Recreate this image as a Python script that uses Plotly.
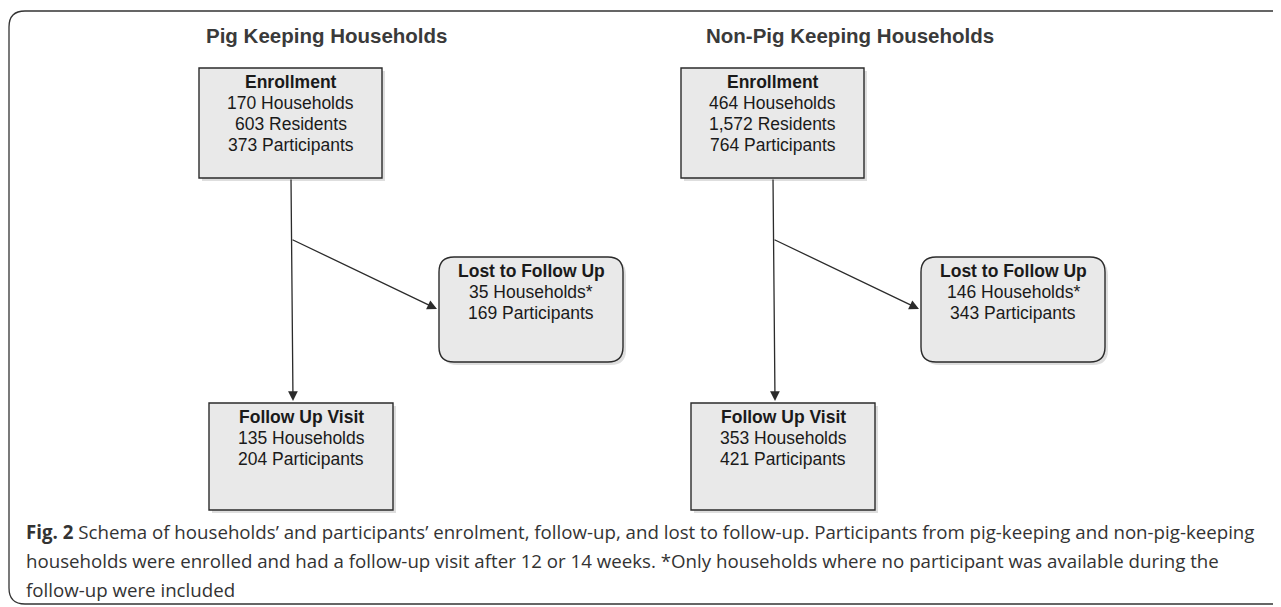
import plotly.graph_objects as go

# ---------------- data ----------------
groups = ["Pig Keeping Households", "Non-Pig Keeping Households"]
enroll_households = [170, 464]
enroll_residents = [603, 1572]
enroll_participants = [373, 764]
lost_households = [35, 146]
lost_participants = [169, 343]
followup_households = [135, 353]
followup_participants = [204, 421]
caption_lines = [
    "<b>Fig. 2</b> Schema of households\u2019 and participants\u2019 enrolment, follow-up, and lost to follow-up. "
    "Participants from pig-keeping and non-pig-keeping",
    "households were enrolled and had a follow-up visit after 12 or 14 weeks. *Only households where no "
    "participant was available during the",
    "follow-up were included",
]

# ---------------- layout constants ----------------
W, H = 1281, 607
PAGE_MARGIN = 8  # default HTML body margin
panel_dx = [0, 482]
title_x = [326, 850]
title_y = 35
enroll_box = (199, 68, 382, 178)
lost_box = (439, 257, 623, 362)
follow_box = (209, 403, 393, 510)
line_top_x, line_bot_x = 291, 293
branch_y = 239
lost_tip = (437, 309)
line_h = 21

BOX_FILL = "#e9e9e9"
EDGE = "#2b2b2b"
TXT = "#1a1a1a"
BOX_FONT = "Liberation Sans, Arial, sans-serif"
BOX_SIZE = 17.5


def rrect(x0, y0, x1, y1, r):
    return (f"M {x0+r},{y0} L {x1-r},{y0} Q {x1},{y0} {x1},{y0+r} "
            f"L {x1},{y1-r} Q {x1},{y1} {x1-r},{y1} L {x0+r},{y1} "
            f"Q {x0},{y1} {x0},{y1-r} L {x0},{y0+r} Q {x0},{y0} {x0+r},{y0} Z")


def fmt(n):
    return f"{n:,}"


shapes = []
annotations = []

# outer frame
shapes.append(dict(type="path", xref="x", yref="y",
                   path="M 1300,11 L 25,11 Q 9,11 9,27 L 9,588 Q 9,604 25,604 L 1300,604",
                   line=dict(color="#333333", width=1.3)))


def add_box(x0, y0, x1, y1, r, lines):
    if r:
        shadow = rrect(x0 + 3, y0 + 3, x1 + 3, y1 + 3, r)
        box = rrect(x0, y0, x1, y1, r)
        shapes.append(dict(type="path", xref="x", yref="y", path=shadow,
                           fillcolor="rgba(0,0,0,0.13)", line=dict(width=0)))
        shapes.append(dict(type="path", xref="x", yref="y", path=box,
                           fillcolor=BOX_FILL, line=dict(color=EDGE, width=1.4)))
    else:
        shapes.append(dict(type="rect", xref="x", yref="y", x0=x0 + 3, y0=y0 + 3, x1=x1 + 3, y1=y1 + 3,
                           fillcolor="rgba(0,0,0,0.13)", line=dict(width=0)))
        shapes.append(dict(type="rect", xref="x", yref="y", x0=x0, y0=y0, x1=x1, y1=y1,
                           fillcolor=BOX_FILL, line=dict(color=EDGE, width=1.4)))
    cx = (x0 + x1) / 2
    ty = y0 + 14
    for i, t in enumerate(lines):
        annotations.append(dict(x=cx, y=ty + i * line_h, xref="x", yref="y", text=t,
                                showarrow=False, xanchor="center", yanchor="middle",
                                font=dict(family=BOX_FONT, size=BOX_SIZE, color=TXT)))


for g, name in enumerate(groups):
    dx = panel_dx[g]
    annotations.append(dict(x=title_x[g], y=title_y, xref="x", yref="y", text=f"<b>{name}</b>",
                            showarrow=False, xanchor="center", yanchor="middle",
                            font=dict(family=BOX_FONT, size=20.5, color="#3a3a3a")))
    ex0, ey0, ex1, ey1 = enroll_box
    add_box(ex0 + dx, ey0, ex1 + dx, ey1, 0,
            ["<b>Enrollment</b>",
             f"{fmt(enroll_households[g])} Households",
             f"{fmt(enroll_residents[g])} Residents",
             f"{fmt(enroll_participants[g])} Participants"])
    lx0, ly0, lx1, ly1 = lost_box
    add_box(lx0 + dx, ly0, lx1 + dx, ly1, 15,
            ["<b>Lost to Follow Up</b>",
             f"{fmt(lost_households[g])} Households*",
             f"{fmt(lost_participants[g])} Participants"])
    fx0, fy0, fx1, fy1 = follow_box
    add_box(fx0 + dx, fy0, fx1 + dx, fy1, 0,
            ["<b>Follow Up Visit</b>",
             f"{fmt(followup_households[g])} Households",
             f"{fmt(followup_participants[g])} Participants"])
    annotations.append(dict(x=line_bot_x + dx, y=fy0 - 2, ax=line_top_x + dx, ay=ey1,
                            xref="x", yref="y", axref="x", ayref="y", text="",
                            showarrow=True, arrowhead=2, arrowsize=1.5, arrowwidth=1.3,
                            arrowcolor=EDGE, standoff=0, startstandoff=0))
    annotations.append(dict(x=lost_tip[0] + dx, y=lost_tip[1], ax=line_top_x + dx, ay=branch_y,
                            xref="x", yref="y", axref="x", ayref="y", text="",
                            showarrow=True, arrowhead=2, arrowsize=1.5, arrowwidth=1.3,
                            arrowcolor=EDGE, standoff=0, startstandoff=0))

# caption
for i, t in enumerate(caption_lines):
    annotations.append(dict(x=24, y=531 + i * 29, xref="x", yref="y", text=t,
                            showarrow=False, xanchor="left", yanchor="middle",
                            font=dict(family="Open Sans, sans-serif", size=18.7, color="#333333")))

fig = go.Figure()
fig.add_trace(go.Scatter(x=[PAGE_MARGIN, W], y=[PAGE_MARGIN, H], mode="markers", marker=dict(opacity=0),
                         hoverinfo="skip", showlegend=False))
fig.update_layout(
    width=W - PAGE_MARGIN, height=H - PAGE_MARGIN, margin=dict(l=0, r=0, t=0, b=0),
    paper_bgcolor="white", plot_bgcolor="white",
    xaxis=dict(range=[PAGE_MARGIN, W], visible=False, fixedrange=True),
    yaxis=dict(range=[H, PAGE_MARGIN], visible=False, fixedrange=True),
    shapes=shapes, annotations=annotations, showlegend=False,
)
fig.write_html("out.html")
